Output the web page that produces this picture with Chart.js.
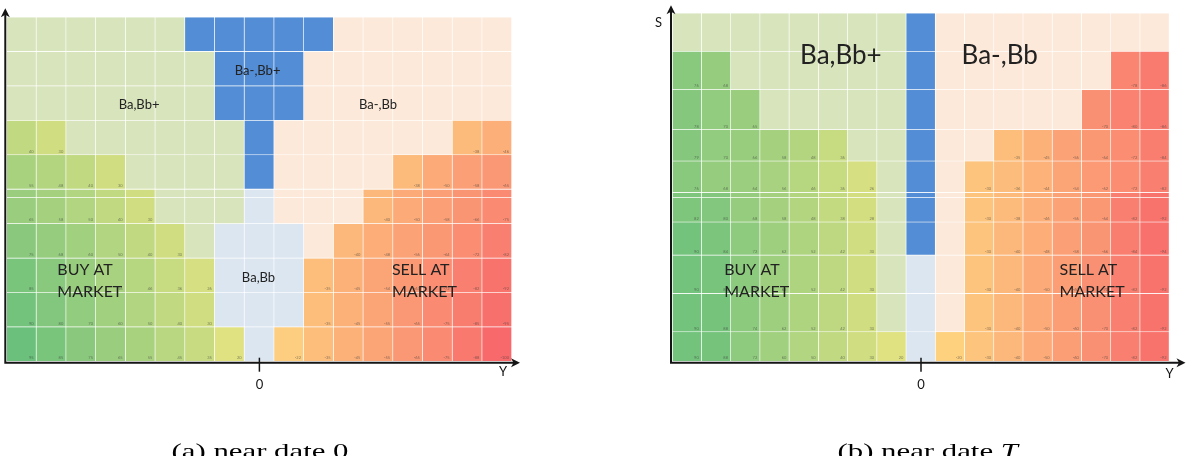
<!DOCTYPE html>
<html>
<head>
<meta charset="utf-8">
<script src="https://cdn.jsdelivr.net/npm/chart.js@4.4.0/dist/chart.umd.min.js"></script>
<style>
  html, body { margin: 0; padding: 0; background: #fff; }
  #wrap { position: relative; width: 1192px; height: 456px; overflow: hidden; }
  canvas { position: absolute; top: 0; }
  #chartA { left: 0; }
  #chartB { left: 596px; }
</style>
</head>
<body>
<div id="wrap">
  <canvas id="chartA" width="596" height="456"></canvas>
  <canvas id="chartB" width="596" height="456"></canvas>
</div>
<script>
// Y grid (inventory) categories, shared by both panels
const yCats = [-8, -7, -6, -5, -4, -3, -2, -1, 0, 1, 2, 3, 4, 5, 6, 7, 8];

// S grid levels (row boundaries, bottom to top)
const sGridA = [0, 10, 20, 30, 40, 50, 60, 70, 80, 90, 100];
const sGridB = [0, 8.5, 19.5, 30.5, 40, 48.5, 57.5, 66.5, 78, 89, 100];

// zones per row, top row first
// G = Ba,Bb+   B = Ba-,Bb+   L = Ba,Bb   P = Ba-,Bb   # = market order (value cell)
const zonesA = [
  'GGGGGGBBBBBPPPPPP',
  'GGGGGGGBBBPPPPPPP',
  'GGGGGGGBBBPPPPPPP',
  '##GGGGGGBPPPPPP##',
  '####GGGGBPPPP####',
  '#####GGGLPPP#####',
  '######GLLLP######',
  '#######LLL#######',
  '#######LLL#######',
  '########L########'
];
const valuesA = [
  [],
  [],
  [],
  [40, 30, -38, -46],
  [55, 48, 40, 30, -38, -50, -58, -65],
  [65, 58, 50, 40, 30, -40, -50, -58, -66, -75],
  [75, 68, 60, 50, 40, 30, -40, -48, -56, -64, -72, -82],
  [85, 76, 66, 56, 46, 36, 26, -35, -45, -54, -63, -72, -82, -92],
  [90, 80, 70, 60, 50, 40, 30, -35, -45, -55, -65, -75, -85, -95],
  [95, 85, 75, 65, 55, 45, 35, 20, -22, -35, -45, -55, -65, -75, -88, -100]
];

const zonesB = [
  'GGGGGGGGBPPPPPPPP',
  '##GGGGGGBPPPPPP##',
  '###GGGGGBPPPPP###',
  '######GGBPP######',
  '#######GBP#######',
  '#######GBP#######',
  '#######GBP#######',
  '#######GLP#######',
  '#######GLP#######',
  '########L########'
];
const valuesB = [
  [],
  [76, 68, -78, -86],
  [78, 70, 65, -70, -80, -86],
  [79, 70, 66, 58, 48, 36, -35, -45, -56, -64, -72, -84],
  [76, 68, 64, 56, 46, 36, 26, -30, -36, -44, -54, -62, -72, -82],
  [82, 80, 68, 58, 48, 38, 28, -30, -38, -46, -56, -64, -82, -92],
  [90, 84, 72, 62, 52, 42, 30, -30, -40, -48, -58, -66, -84, -94],
  [90, 86, 74, 62, 52, 42, 30, -30, -40, -50, -60, -70, -82, -92],
  [90, 88, 74, 62, 52, 42, 30, -30, -40, -50, -60, -70, -82, -92],
  [90, 88, 72, 60, 50, 40, 30, 20, -20, -30, -40, -50, -60, -70, -82, -92]
];

// region texts: column index, S level, font size, alignment
const labelsA = [
  { text: 'Ba,Bb+', col: 3.95, s: 73.4, size: 13, align: 'center' },
  { text: 'Ba-,Bb+', col: 7.94, s: 83.2, size: 13, align: 'center' },
  { text: 'Ba-,Bb', col: 11.99, s: 73.4, size: 13, align: 'center' },
  { text: 'Ba,Bb', col: 7.97, s: 23.1, size: 13, align: 'center' },
  { text: 'BUY AT', col: 1.2, s: 25.2, size: 16, align: 'left' },
  { text: 'MARKET', col: 1.2, s: 18.9, size: 16, align: 'left' },
  { text: 'SELL AT', col: 12.46, s: 25.2, size: 16, align: 'left' },
  { text: 'MARKET', col: 12.46, s: 18.9, size: 16, align: 'left' }
];
const labelsB = [
  { text: 'Ba,Bb+', col: 5.26, s: 85.4, size: 26, align: 'center' },
  { text: 'Ba-,Bb', col: 10.69, s: 85.4, size: 26, align: 'center' },
  { text: 'BUY AT', col: 1.27, s: 24.9, size: 16, align: 'left' },
  { text: 'MARKET', col: 1.27, s: 18.6, size: 16, align: 'left' },
  { text: 'SELL AT', col: 12.74, s: 24.9, size: 16, align: 'left' },
  { text: 'MARKET', col: 12.74, s: 18.6, size: 16, align: 'left' }
];

const zoneColors = { G: '#D8E4BC', B: '#538DD5', L: '#DCE6F1', P: '#FDE9D9' };
const green = [99, 190, 123], yellow = [255, 235, 132], red = [248, 105, 107];

function scaleColor(v) {
  const t = Math.min(Math.abs(v) / 100, 1);
  const end = v >= 0 ? green : red;
  const c = yellow.map((y, i) => Math.round(y + (end[i] - y) * t));
  return 'rgb(' + c.join(',') + ')';
}

function buildDatasets(zones, values, sGrid) {
  const n = sGrid.length - 1;
  return zones.map((row, r) => {
    const lo = sGrid[n - r - 1], hi = sGrid[n - r];
    const colors = [], nums = [];
    let k = 0;
    for (const ch of row) {
      if (ch === '#') {
        const v = values[r][k++];
        nums.push(v);
        colors.push(scaleColor(v));
      } else {
        nums.push(null);
        colors.push(zoneColors[ch]);
      }
    }
    return {
      data: yCats.map(() => [lo, hi]),
      backgroundColor: colors,
      borderColor: 'rgba(255,255,255,0.2)',
      borderWidth: { top: 0, left: 0, right: 1, bottom: 1 },
      borderSkipped: false,
      grouped: false,
      barPercentage: 1,
      categoryPercentage: 1,
      cellValues: nums
    };
  });
}

// draws the cell numbers, region texts, axes with arrows, and the caption
const decor = {
  id: 'decor',
  afterDatasetsDraw(chart, args, o) {
    const { ctx, chartArea: a, scales: { x, y } } = chart;
    ctx.save();

    // tiny numbers in the market cells
    ctx.font = '4px Lato';
    ctx.fillStyle = 'rgba(60,60,60,0.6)';
    ctx.textAlign = 'right';
    ctx.textBaseline = 'alphabetic';
    chart.data.datasets.forEach((ds, i) => {
      chart.getDatasetMeta(i).data.forEach((bar, j) => {
        const v = ds.cellValues[j];
        if (v === null) return;
        const p = bar.getProps(['x', 'y', 'base', 'width']);
        ctx.fillText(String(v), p.x + p.width / 2 - 3, Math.max(p.y, p.base) - 2.5);
      });
    });

    // white scan line across the grid
    ctx.strokeStyle = 'rgba(255,255,255,0.75)';
    ctx.lineWidth = 1;
    const ly = Math.round(y.getPixelForValue(o.scanLine)) + 0.5;
    ctx.beginPath(); ctx.moveTo(a.left, ly); ctx.lineTo(a.right, ly); ctx.stroke();

    // region texts
    ctx.fillStyle = '#222';
    o.labels.forEach(l => {
      ctx.font = l.size + 'px Lato';
      ctx.textAlign = l.align;
      ctx.fillText(l.text, x.getPixelForValue(l.col), y.getPixelForValue(l.s));
    });

    // axes
    const L = a.left - 1.5, B = a.bottom + 1;
    const topTip = a.top - o.arrowTop, rightTip = a.right + o.arrowRight;
    ctx.strokeStyle = '#151515';
    ctx.fillStyle = '#151515';
    ctx.lineWidth = 2;
    ctx.beginPath();
    ctx.moveTo(L, B); ctx.lineTo(L, topTip + 6);
    ctx.moveTo(L - 1, B); ctx.lineTo(rightTip - 6, B);
    ctx.stroke();
    ctx.beginPath();
    ctx.moveTo(L, topTip); ctx.lineTo(L - 4.5, topTip + 9); ctx.lineTo(L, topTip + 6.5); ctx.lineTo(L + 4.5, topTip + 9);
    ctx.closePath(); ctx.fill();
    ctx.beginPath();
    ctx.moveTo(rightTip, B); ctx.lineTo(rightTip - 9, B - 4.5); ctx.lineTo(rightTip - 6.5, B); ctx.lineTo(rightTip - 9, B + 4.5);
    ctx.closePath(); ctx.fill();

    // zero tick
    const x0 = x.getPixelForValue(yCats.indexOf(0));
    ctx.lineWidth = 1.5;
    ctx.beginPath(); ctx.moveTo(x0, B - 5); ctx.lineTo(x0, B + 9); ctx.stroke();
    ctx.font = '13px Lato';
    ctx.textAlign = 'center';
    ctx.textBaseline = 'middle';
    ctx.fillText('0', x0, B + 22);
    ctx.fillText('Y', a.right + o.yLabelDx, B + o.yLabelDy);
    if (o.sLabel) ctx.fillText('S', a.left - 14, a.top + 10);

    // caption
    ctx.textBaseline = 'alphabetic';
    ctx.textAlign = 'left';
    ctx.fillStyle = '#000';
    ctx.translate(o.captionX, 457.5);
    ctx.scale(1.4, 1);
    ctx.font = '22px "Liberation Serif"';
    const w1 = ctx.measureText(o.caption).width;
    let w2 = 0;
    if (o.captionItalic) {
      ctx.font = 'italic 22px "Liberation Serif"';
      w2 = ctx.measureText(o.captionItalic).width;
    }
    ctx.font = '22px "Liberation Serif"';
    ctx.fillText(o.caption, -(w1 + w2) / 2, 0);
    if (o.captionItalic) {
      ctx.font = 'italic 22px "Liberation Serif"';
      ctx.fillText(o.captionItalic, -(w1 + w2) / 2 + w1, 0);
    }
    ctx.restore();
  }
};

function makeChart(id, zones, values, sGrid, padding, decorOpts) {
  return new Chart(document.getElementById(id), {
    type: 'bar',
    data: { labels: yCats, datasets: buildDatasets(zones, values, sGrid) },
    options: {
      responsive: false,
      devicePixelRatio: 1,
      animation: false,
      layout: { padding: padding },
      scales: {
        x: { type: 'category', display: false },
        y: { type: 'linear', min: 0, max: 100, display: false }
      },
      plugins: {
        legend: { display: false },
        tooltip: { enabled: false },
        decor: decorOpts
      }
    },
    plugins: [decor]
  });
}

makeChart('chartA', zonesA, valuesA, sGridA,
  { left: 6.8, right: 84, top: 17.3, bottom: 94.3 },
  { labels: labelsA, scanLine: 47.8, arrowTop: 9, arrowRight: 8, yLabelDx: -9, yLabelDy: 9,
    sLabel: false, captionX: 260, caption: '(a) near date 0', captionItalic: '' });

makeChart('chartB', zonesB, valuesB, sGridB,
  { left: 76.5, right: 22.5, top: 13.3, bottom: 94.3 },
  { labels: labelsB, scanLine: 47.3, arrowTop: 8, arrowRight: 16, yLabelDx: 0, yLabelDy: 11,
    sLabel: true, captionX: 331.7, caption: '(b) near date ', captionItalic: 'T' });
</script>
</body>
</html>
